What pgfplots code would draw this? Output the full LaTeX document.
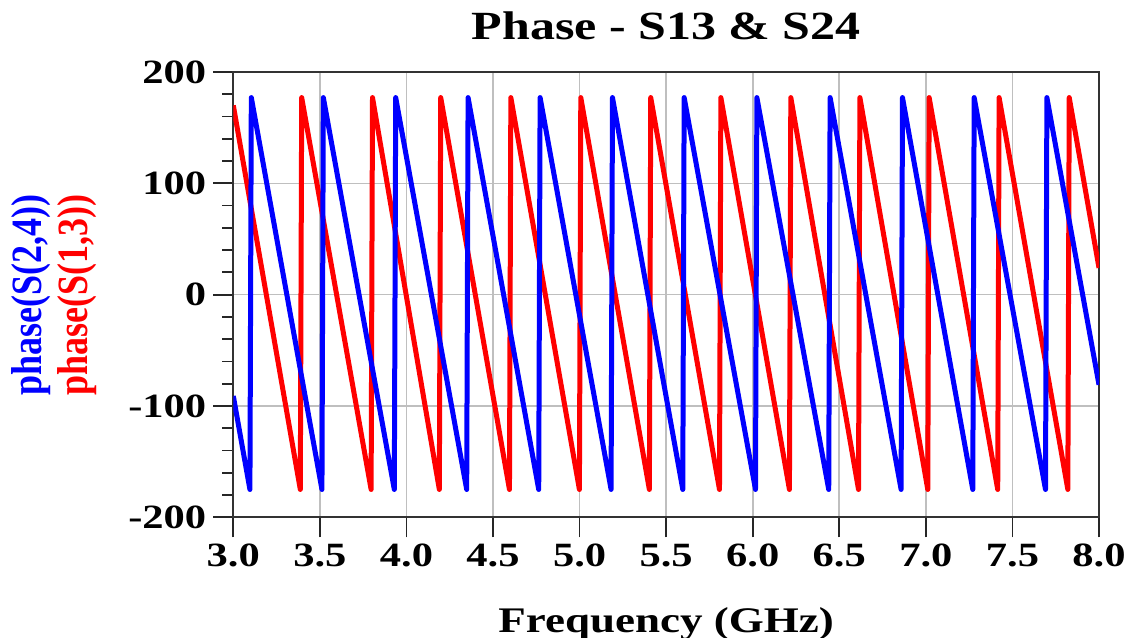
\documentclass[border=0pt]{standalone}
\usepackage{fontspec}
\setmainfont{Liberation Serif}
\usepackage{graphicx}
\usepackage{pgfplots}
\pgfplotsset{compat=1.18}

% wide setting of all chart text
\newcommand{\sx}[1]{\scalebox{1.25}[1]{#1}}

\pgfplotstableread{
f      ph
3.000  170
3.387  -175
3.395  177
3.796  -175
3.804  177
4.190  -175
4.198  177
4.595  -175
4.603  177
4.999  -175
5.007  177
5.403  -175
5.411  177
5.808  -175
5.816  177
6.212  -175
6.220  177
6.611  -175
6.619  177
7.011  -175
7.019  177
7.415  -175
7.423  177
7.820  -175
7.828  177
8.000  24
}\sonethree

\pgfplotstableread{
f      ph
3.000  -91
3.096  -175
3.104  177
3.512  -175
3.520  177
3.930  -175
3.938  177
4.348  -175
4.356  177
4.764  -175
4.772  177
5.182  -175
5.190  177
5.596  -175
5.604  177
6.016  -175
6.024  177
6.439  -175
6.447  177
6.857  -175
6.865  177
7.271  -175
7.279  177
7.691  -175
7.699  177
8.000  -81
}\stwofour

\begin{document}
\begin{tikzpicture}
\begin{axis}[
  name=ax,
  scale only axis,
  width=432.85pt, height=222.65pt,
  xmin=3, xmax=8, ymin=-200, ymax=200,
  xtick={3,3.5,4,4.5,5,5.5,6,6.5,7,7.5,8},
  ytick={-200,-100,0,100,200},
  minor y tick num=4,
  tick align=outside,
  xtick pos=bottom, ytick pos=left,
  major tick length=10pt, minor tick length=5.5pt,
  every tick/.style={black!85, line width=0.9pt},
  axis line style={black!80, line width=1pt},
  grid=major,
  major grid style={gray!50, line width=0.8pt},
  /pgf/number format/assume math mode=true,
  tick label style={font=\fontsize{17}{17}\selectfont\bfseries},
  xticklabel={\sx{\pgfmathprintnumber[fixed,fixed zerofill,precision=1]{\tick}}},
  yticklabel={\sx{\pgfmathprintnumber[fixed,precision=0]{\tick}}},
]
\addplot[red, line width=2.5pt, line join=round] table[x=f, y=ph] {\sonethree};
\addplot[blue, line width=2.5pt, line join=round] table[x=f, y=ph] {\stwofour};
\end{axis}

\node[anchor=base, font=\fontsize{20}{20}\selectfont\bfseries]
  at ([yshift=16pt]ax.north) {\sx{Phase - S13 \& S24}};
\node[anchor=base, font=\fontsize{18}{18}\selectfont\bfseries]
  at ([yshift=-57.5pt]ax.south) {\sx{Frequency (GHz)}};
\node[rotate=90, anchor=center, inner sep=0pt, font=\fontsize{18}{19}\selectfont\bfseries]
  at ([xshift=-89pt]ax.west)
  {\scalebox{1}[1.2]{\def\arraystretch{1}\begin{tabular}{@{}c@{}}\color{blue}phase(S(2,4))\\ \color{red}phase(S(1,3))\end{tabular}}};

\pgfresetboundingbox
\path ([xshift=-116.65pt,yshift=-60.35pt]ax.south west) rectangle ([xshift=17pt,yshift=36pt]ax.north east);
\end{tikzpicture}
\end{document}
